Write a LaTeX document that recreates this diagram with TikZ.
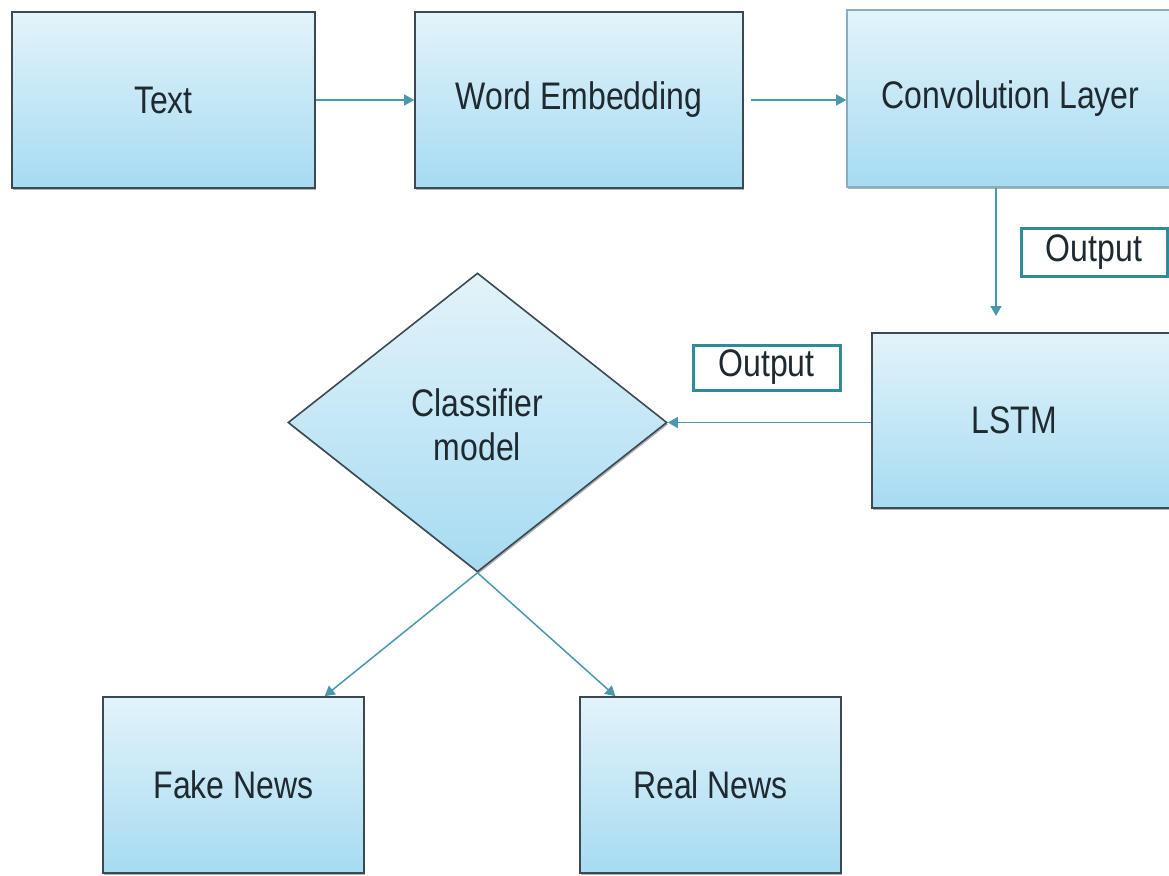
\documentclass[tikz,border=0pt]{standalone}
\usepackage{fontspec}
\setmainfont{Liberation Sans}
\usepackage{graphicx}
\usetikzlibrary{shapes.geometric,arrows.meta,shadows,calc}

\definecolor{boxtop}{HTML}{E3F3FA}
\definecolor{boxbot}{HTML}{A6DBF1}
\definecolor{boxline}{HTML}{3B4A52}
\definecolor{lightline}{HTML}{86AEBE}
\definecolor{flow}{HTML}{4B98AD}
\definecolor{tagline}{HTML}{2F8A9C}
\definecolor{ink}{HTML}{1E2A30}

% text in the figure is set slightly tall
\newcommand\tall[1]{\scalebox{1}[1.2]{#1}}

\tikzset{
  blockbox/.style={rectangle, draw=boxline, line width=1.6pt,
    top color=boxtop, bottom color=boxbot, text=ink,
    inner sep=0pt, font=\fontsize{32}{38}\selectfont,
    drop shadow={shadow xshift=1.2pt, shadow yshift=-2pt, opacity=0.3, fill=black}},
  decision/.style={diamond, draw=boxline, line width=1.6pt, aspect=1.27,
    top color=boxtop, bottom color=boxbot, text=ink, inner sep=0pt,
    font=\fontsize{32}{36.7}\selectfont,
    drop shadow={shadow xshift=1.2pt, shadow yshift=-2pt, opacity=0.3, fill=black}},
  tag/.style={rectangle, draw=tagline, line width=3pt, fill=white, text=ink,
    inner sep=0pt, font=\fontsize{32}{38}\selectfont},
  flowline/.style={draw=flow, line width=1.5pt,
    -{Triangle[width=11pt,length=10pt]}},
}

\begin{document}
\begin{tikzpicture}[x=1pt,y=-1pt]
\useasboundingbox (0,0) rectangle (1169,875);

% top row
\node[blockbox, minimum width=303, minimum height=176] (txt) at (163.5,100) {\tall{Text}};
\node[blockbox, minimum width=328, minimum height=176] (emb) at (579,100) {\tall{Word Embedding}};
\node[blockbox, draw=lightline, minimum width=333, minimum height=177] (conv) at (1013.5,98.5) {\hspace*{-6pt}\tall{Convolution Layer}};

% middle row
\node[blockbox, minimum width=300, minimum height=175] (lstm) at (1022,420.5) {\hspace*{-16pt}\tall{LSTM}};
\node[decision, minimum width=379, minimum height=299] (cls) at (477.5,422.5)
  {\raisebox{-7pt}[\height][\depth]{\tall{\begin{tabular}{@{}c@{}}Classifier\\model\end{tabular}}}};

% outputs
\node[blockbox, minimum width=261, minimum height=176] (fake) at (233.5,785) {\tall{Fake News}};
\node[blockbox, minimum width=261, minimum height=176] (real) at (710.5,785) {\tall{Real News}};

% edge labels
\node[tag, minimum width=146, minimum height=48] (out1) at (1094,252) {\tall{Output}};
\node[tag, minimum width=147, minimum height=45] (out2) at (766.5,367.5) {\tall{Output}};

% connectors
\coordinate (convend) at (996,316);
\draw[flowline] (txt.east) -- (emb.west);
\draw[flowline, shorten <=7pt] (emb.east) -- (conv.west |- emb.east);
\draw[flowline] (convend |- conv.south) -- (convend);
\draw[flowline] (lstm.west |- cls.east) -- (cls.east);
\draw[flowline] (cls.south) -- ($(fake.north west)!0.847!(fake.north east)$);
\draw[flowline] (cls.south) -- ($(real.north west)!0.138!(real.north east)$);
\end{tikzpicture}
\end{document}
